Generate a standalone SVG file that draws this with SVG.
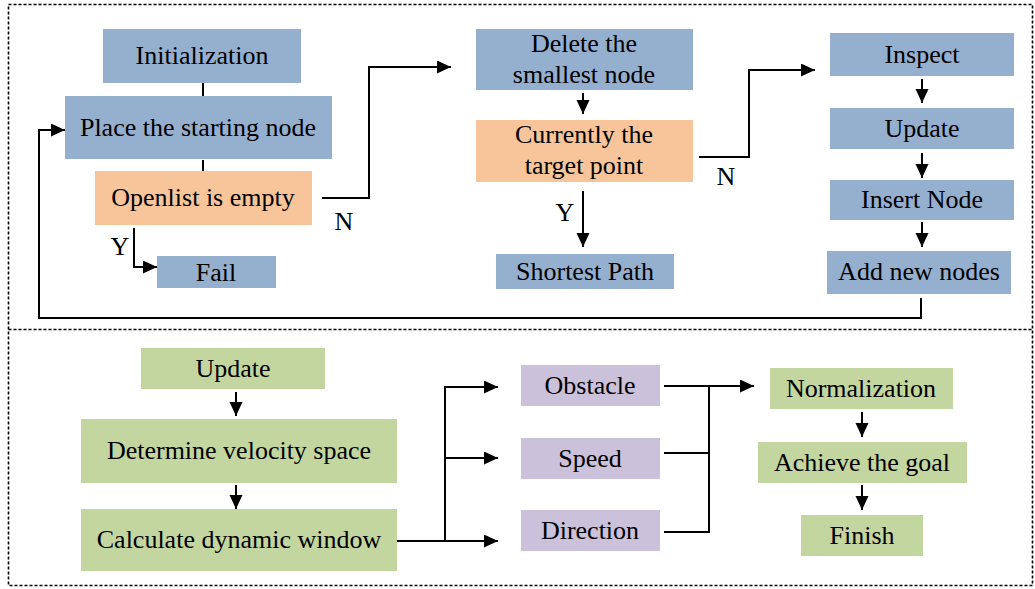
<svg xmlns="http://www.w3.org/2000/svg" width="1035" height="589" viewBox="0 0 1035 589" font-family="'Liberation Serif', 'Times New Roman', 'DejaVu Serif', serif" font-size="26">
<style>
.blue{fill:#95AFCF}
.orange{fill:#F8C59B}
.green{fill:#C4D6A0}
.purple{fill:#CCC1DA}
text{font-family:'Liberation Serif','Times New Roman','DejaVu Serif',serif;font-size:26px;fill:#000;text-anchor:middle}
.ln{fill:none;stroke:#000;stroke-width:2}
.ar{fill:none;stroke:#000;stroke-width:2;marker-end:url(#ah)}
.frame{fill:none;stroke:#000;stroke-width:1.6;stroke-dasharray:3 2}
</style>
<defs>
<marker id="ah" markerUnits="userSpaceOnUse" markerWidth="15" markerHeight="14" refX="14" refY="6.5" orient="auto">
<path d="M0,0 L14,6.5 L0,13 z" fill="#000"/>
</marker>
</defs>
<g id="frame">
<rect class="frame" x="8.5" y="4.5" width="1024" height="581"/>
<line class="frame" x1="8.5" y1="329.5" x2="1032.5" y2="329.5"/>
</g>
<g id="connectors">
<path class="ln" d="M203,83 V96"/>
<path class="ln" d="M203,160 V171"/>
<path class="ar" d="M134,228 V267 H157"/>
<path class="ar" d="M322,198 H369 V67 H451"/>
<path class="ar" d="M583,93 V114"/>
<path class="ar" d="M583,191 V247"/>
<path class="ar" d="M699,157 H749 V70 H815"/>
<path class="ar" d="M922,79 V103"/>
<path class="ar" d="M922,153 V178"/>
<path class="ar" d="M922,222 V247"/>
<path class="ar" d="M921,298 V318 H39 V130 H65"/>
<path class="ar" d="M236,392 V416"/>
<path class="ar" d="M236,485 V509"/>
<path class="ar" d="M397,541 H498"/>
<path class="ar" d="M445,541 V387 H498"/>
<path class="ar" d="M445,458 H498"/>
<path class="ar" d="M664,386 H754"/>
<path class="ln" d="M664,453 H709"/>
<path class="ln" d="M664,532 H709 V386"/>
<path class="ar" d="M862,412 V437"/>
<path class="ar" d="M862,485 V510"/>
<text x="120" y="255">Y</text>
<text x="344" y="230">N</text>
<text x="565" y="221">Y</text>
<text x="726" y="185">N</text>
</g>
<g id="n-init"><rect class="blue" x="103" y="29" width="198" height="54"/><text x="202" y="64">Initialization</text></g>
<g id="n-place"><rect class="blue" x="65" y="96" width="267" height="63"/><text x="198" y="136">Place the starting node</text></g>
<g id="n-openlist"><rect class="orange" x="95" y="171" width="217" height="54"/><text x="203" y="206">Openlist is empty</text></g>
<g id="n-fail"><rect class="blue" x="157" y="256" width="119" height="32"/><text x="216" y="281">Fail</text></g>
<g id="n-delete"><rect class="blue" x="476" y="29" width="217" height="61"/><text x="584" y="52">Delete the</text><text x="584" y="83">smallest node</text></g>
<g id="n-current"><rect class="orange" x="476" y="120" width="217" height="62"/><text x="584" y="143">Currently the</text><text x="584" y="174">target point</text></g>
<g id="n-shortest"><rect class="blue" x="496" y="254" width="178" height="35"/><text x="585" y="280">Shortest Path</text></g>
<g id="n-inspect"><rect class="blue" x="830" y="33" width="184" height="43"/><text x="922" y="63">Inspect</text></g>
<g id="n-update1"><rect class="blue" x="830" y="108" width="184" height="41"/><text x="922" y="137">Update</text></g>
<g id="n-insert"><rect class="blue" x="830" y="180" width="184" height="40"/><text x="922" y="208">Insert Node</text></g>
<g id="n-addnew"><rect class="blue" x="827" y="251" width="184" height="43"/><text x="919" y="280">Add new nodes</text></g>
<g id="n-update2"><rect class="green" x="141" y="348" width="184" height="41"/><text x="233" y="377">Update</text></g>
<g id="n-determine"><rect class="green" x="81" y="419" width="316" height="64"/><text x="239" y="459">Determine velocity space</text></g>
<g id="n-calculate"><rect class="green" x="81" y="509" width="316" height="62"/><text x="239" y="548">Calculate dynamic window</text></g>
<g id="n-obstacle"><rect class="purple" x="521" y="365" width="139" height="41"/><text x="590" y="394">Obstacle</text></g>
<g id="n-speed"><rect class="purple" x="521" y="438" width="139" height="41"/><text x="590" y="467">Speed</text></g>
<g id="n-direction"><rect class="purple" x="521" y="510" width="139" height="41"/><text x="590" y="539">Direction</text></g>
<g id="n-normalization"><rect class="green" x="770" y="368" width="183" height="41"/><text x="861" y="397">Normalization</text></g>
<g id="n-achieve"><rect class="green" x="758" y="442" width="209" height="41"/><text x="862" y="471">Achieve the goal</text></g>
<g id="n-finish"><rect class="green" x="801" y="515" width="122" height="41"/><text x="862" y="544">Finish</text></g>
</svg>
